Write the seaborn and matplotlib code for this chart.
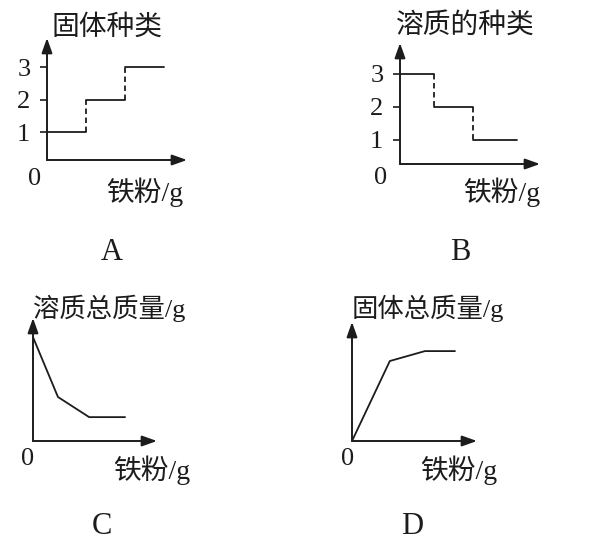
import pandas as pd
import matplotlib.pyplot as plt
import seaborn as sns

# A: 固体种类 step levels vs iron powder
a_breaks = [0, 1, 2, 3]
a_levels = [1, 2, 3]
# B: 溶质的种类
b_breaks = [0, 0.87, 1.87, 3.0]
b_levels = [3, 2, 1]
# C: 溶质总质量 (polyline)
c_x = [0, 0.64, 1.44, 2.36]
c_y = [3.35, 1.42, 0.77, 0.77]
# D: 固体总质量 (polyline)
d_x = [0, 0.97, 1.87, 2.64]
d_y = [0, 2.58, 2.9, 2.9]

tick_vals = [1, 2, 3]
tick_labels = ['1', '2', '3']
titles = ['固体种类', '溶质的种类', '溶质总质量/g', '固体总质量/g']
xlabel = '铁粉/g'
panel_tags = ['A', 'B', 'C', 'D']

sns.set_style('white')
plt.rcParams['font.family'] = ['Liberation Serif', 'Noto Sans CJK SC']

W, H = 591, 546
INK = '#1c1c1c'
fig = plt.figure(figsize=(W / 100, H / 100), dpi=100)
fig.patch.set_facecolor('white')


def px_axes(x0, y0, w, h, ybase=0.0, ypx=31.0, xpx=39.0):
    # origin at pixel (x0, y0) counted from the top-left corner
    ax = fig.add_axes([x0 / W, (H - y0) / H, w / W, h / H])
    ax.set_xlim(0, w / xpx)
    ax.set_ylim(ybase, ybase + h / ypx)
    for s in ax.spines.values():
        s.set_visible(False)
    ax.set_facecolor('none')
    ax.set_xticks([])
    ax.set_yticks([])
    arrow = dict(arrowstyle='-|>,head_length=0.9,head_width=0.32', lw=1.4,
                 color=INK, shrinkA=0, shrinkB=0)
    ax.annotate('', xy=(1, 0), xytext=(0, 0), xycoords='axes fraction',
                arrowprops=arrow, annotation_clip=False)
    ax.annotate('', xy=(0, 1), xytext=(0, 0), xycoords='axes fraction',
                arrowprops=arrow, annotation_clip=False)
    return ax


def add_ticks(ax):
    ax.set_yticks(tick_vals)
    ax.set_yticklabels(tick_labels)
    ax.tick_params(axis='y', left=True, length=5, width=1.2, color=INK,
                   direction='out', pad=7, labelsize=19, labelcolor=INK)


def draw_steps(ax, breaks, levels):
    seg = pd.DataFrame({
        'x': [b for i in range(len(levels)) for b in (breaks[i], breaks[i + 1])],
        'y': [lv for lv in levels for _ in range(2)],
        'seg': [i for i in range(len(levels)) for _ in range(2)],
    })
    sns.lineplot(data=seg, x='x', y='y', units='seg', estimator=None,
                 color=INK, lw=1.3, ax=ax)
    ax.vlines(breaks[1:-1], levels[:-1], levels[1:], colors=INK, lw=1.3,
              linestyles=(0, (3, 2)))
    ax.set_xlabel('')
    ax.set_ylabel('')


def ptext(x, y, s, size, ha='left'):
    fig.text(x / W, 1 - y / H, s, fontsize=size, ha=ha, va='center', color=INK)


# panel A
axA = px_axes(47, 160, 140, 122, ybase=0.14, ypx=32.5)
draw_steps(axA, a_breaks, a_levels)
add_ticks(axA)
ptext(52, 28, titles[0], 20)
ptext(35, 179, '0', 19, ha='center')
ptext(106, 192, xlabel, 20)
ptext(112, 253, panel_tags[0], 22, ha='center')

# panel B
axB = px_axes(400, 164, 140, 121, ybase=0.27, ypx=33.0)
draw_steps(axB, b_breaks, b_levels)
add_ticks(axB)
ptext(396, 26, titles[1], 20)
ptext(381, 178, '0', 19, ha='center')
ptext(463, 192, xlabel, 20)
ptext(460, 253, panel_tags[1], 22, ha='center')

# panel C
axC = px_axes(33, 441, 124, 123)
sns.lineplot(x=c_x, y=c_y, sort=False, estimator=None, color=INK, lw=1.3, ax=axC)
ptext(33, 308, titles[2], 19)
ptext(28, 459, '0', 19, ha='center')
ptext(113, 470, xlabel, 20)
ptext(102, 527, panel_tags[2], 22, ha='center')

# panel D
axD = px_axes(352, 441, 125, 119)
sns.lineplot(x=d_x, y=d_y, sort=False, estimator=None, color=INK, lw=1.3, ax=axD)
ptext(352, 308, titles[3], 19)
ptext(348, 459, '0', 19, ha='center')
ptext(420, 470, xlabel, 20)
ptext(412, 527, panel_tags[3], 22, ha='center')

fig.savefig('out.png', dpi=100)
